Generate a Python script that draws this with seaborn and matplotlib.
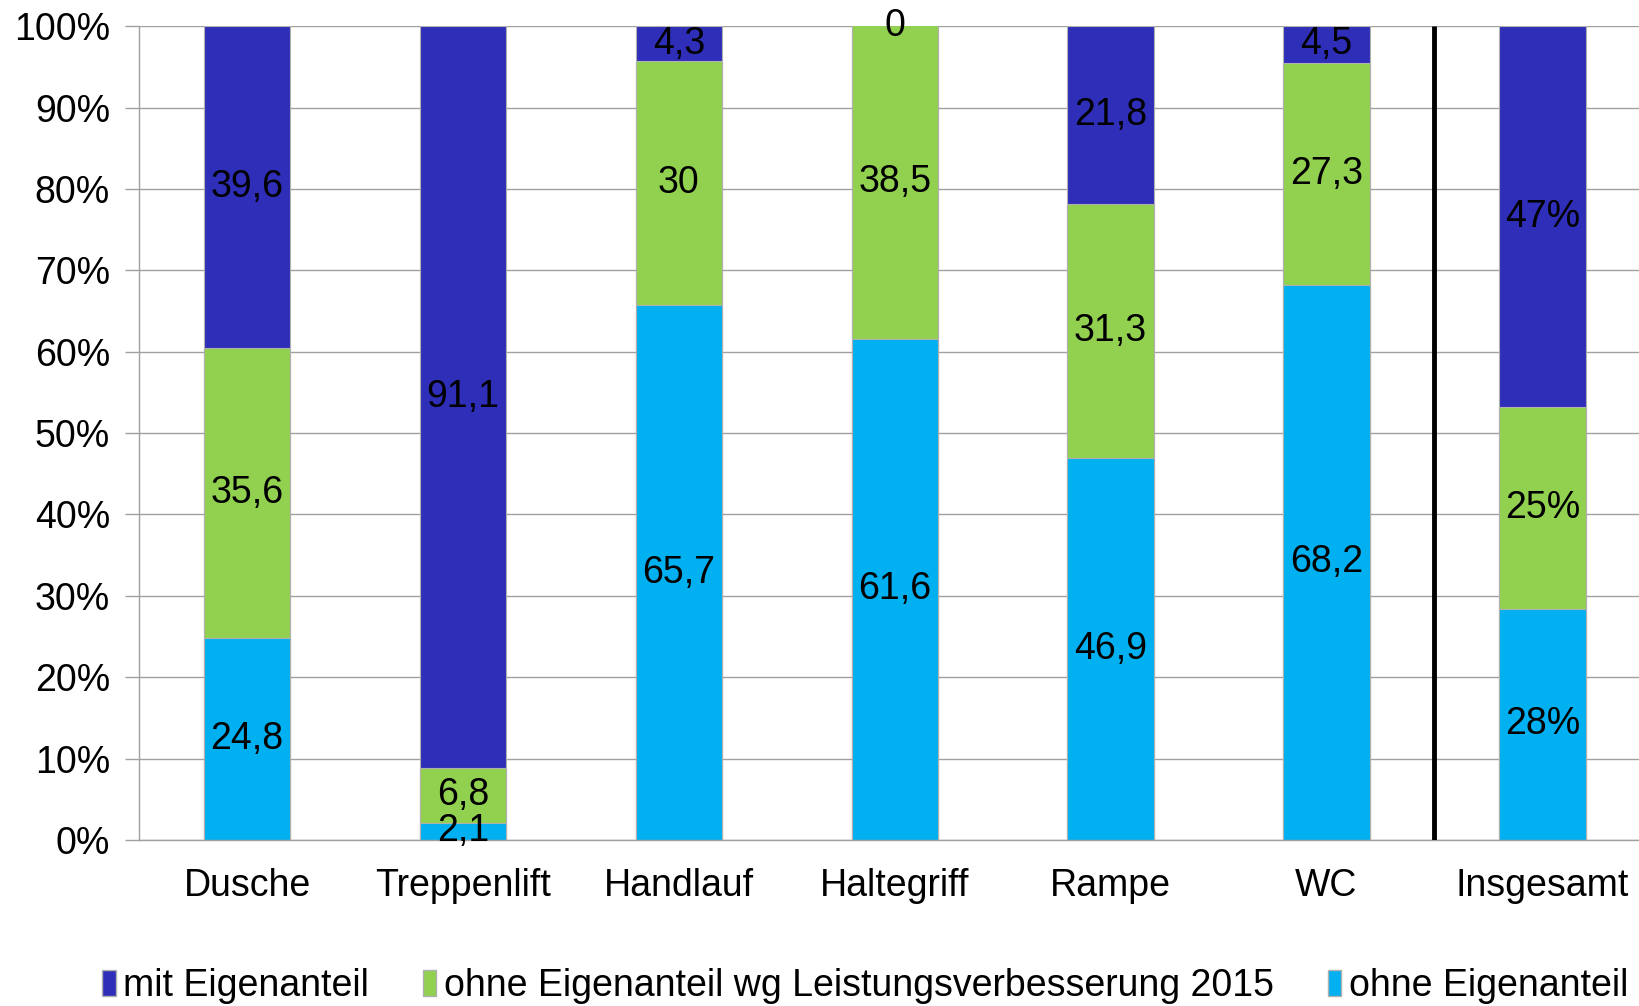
import numpy as np
import pandas as pd
import matplotlib
matplotlib.use("Agg")
import matplotlib.pyplot as plt
import matplotlib.patches as mpatches
import seaborn as sns

categories = ["Dusche", "Treppenlift", "Handlauf", "Haltegriff", "Rampe", "WC", "Insgesamt"]
# stacked from bottom to top
ohne = [24.8, 2.1, 65.7, 61.6, 46.9, 68.2, 28.4]
ohne_2015 = [35.6, 6.8, 30.0, 38.5, 31.3, 27.3, 24.8]
mit = [39.6, 91.1, 4.3, 0.0, 21.8, 4.5, 46.8]

series_names = ["ohne Eigenanteil", "ohne Eigenanteil wg Leistungsverbesserung 2015", "mit Eigenanteil"]
colors = ["#00B0F0", "#92D050", "#2E2EB8"]
legend_order = ["mit Eigenanteil", "ohne Eigenanteil wg Leistungsverbesserung 2015", "ohne Eigenanteil"]

sns.set_theme(style="white")
plt.rcParams["font.family"] = ["Liberation Sans", "DejaVu Sans"]
plt.rcParams["text.color"] = "black"
plt.rcParams["xtick.labelcolor"] = "black"
plt.rcParams["ytick.labelcolor"] = "black"
fs = 27

df = pd.DataFrame({"cat": categories, series_names[0]: ohne,
                   series_names[1]: ohne_2015, series_names[2]: mit})
cum = df[series_names].cumsum(axis=1)

fig = plt.figure(figsize=(16.39, 10.06), dpi=100)
ax = fig.add_axes([0.0849, 0.165, 0.922, 0.809])

# draw cumulative totals from top down so lower segments overlay
for name, col in reversed(list(zip(series_names, colors))):
    sns.barplot(x=df["cat"], y=cum[name], color=col, saturation=1, width=0.4,
                edgecolor="#B0B0B0", linewidth=0.8, ax=ax, order=categories)

def fmt(v, cat):
    if cat == "Insgesamt":
        return "{:.0f}%".format(v)
    if float(v).is_integer():
        return "{:d}".format(int(v))
    return "{:.1f}".format(v).replace(".", ",")

for i, cat in enumerate(categories):
    bottom = 0
    for name in series_names:
        v = df.loc[i, name]
        ax.text(i, min(bottom + v / 2, 100), fmt(v, cat), ha="center", va="center",
                fontsize=fs, color="black", zorder=5)
        bottom += v

ax.vlines(5.5, 0, 100, color="black", linewidth=3.5, zorder=6)

ax.set_xlim(-0.5, 6.5)
ax.set_ylim(0, 100)
ax.set_yticks(np.arange(0, 101, 10))
ax.set_yticklabels(["{}%".format(t) for t in range(0, 101, 10)])
ax.set_xticks(np.arange(-0.5, 7, 1), minor=True)
ax.tick_params(axis="x", which="major", length=0, pad=20, labelsize=fs)
ax.tick_params(axis="x", which="minor", length=10, width=1, color="#A0A0A0", direction="out")
ax.tick_params(axis="y", length=10, width=1, color="#A0A0A0", direction="out", pad=11, labelsize=fs, left=True)
ax.set_xlabel("")
ax.set_ylabel("")
ax.yaxis.grid(True, color="#A0A0A0", linewidth=1)
ax.set_axisbelow(True)
for s in ["top", "right"]:
    ax.spines[s].set_visible(False)
for s in ["left", "bottom"]:
    ax.spines[s].set_color("#A0A0A0")
    ax.spines[s].set_linewidth(1)

handles = [mpatches.Patch(facecolor=colors[series_names.index(n)], edgecolor="#B0B0B0", label=n)
           for n in legend_order]
fig.legend(handles=handles, loc="lower center", bbox_to_anchor=(0.528, -0.032), ncol=3,
           frameon=False, fontsize=fs, handlelength=0.35, handleheight=0.7,
           handletextpad=0.2, columnspacing=1.45)

fig.savefig("out.png", dpi=100)
